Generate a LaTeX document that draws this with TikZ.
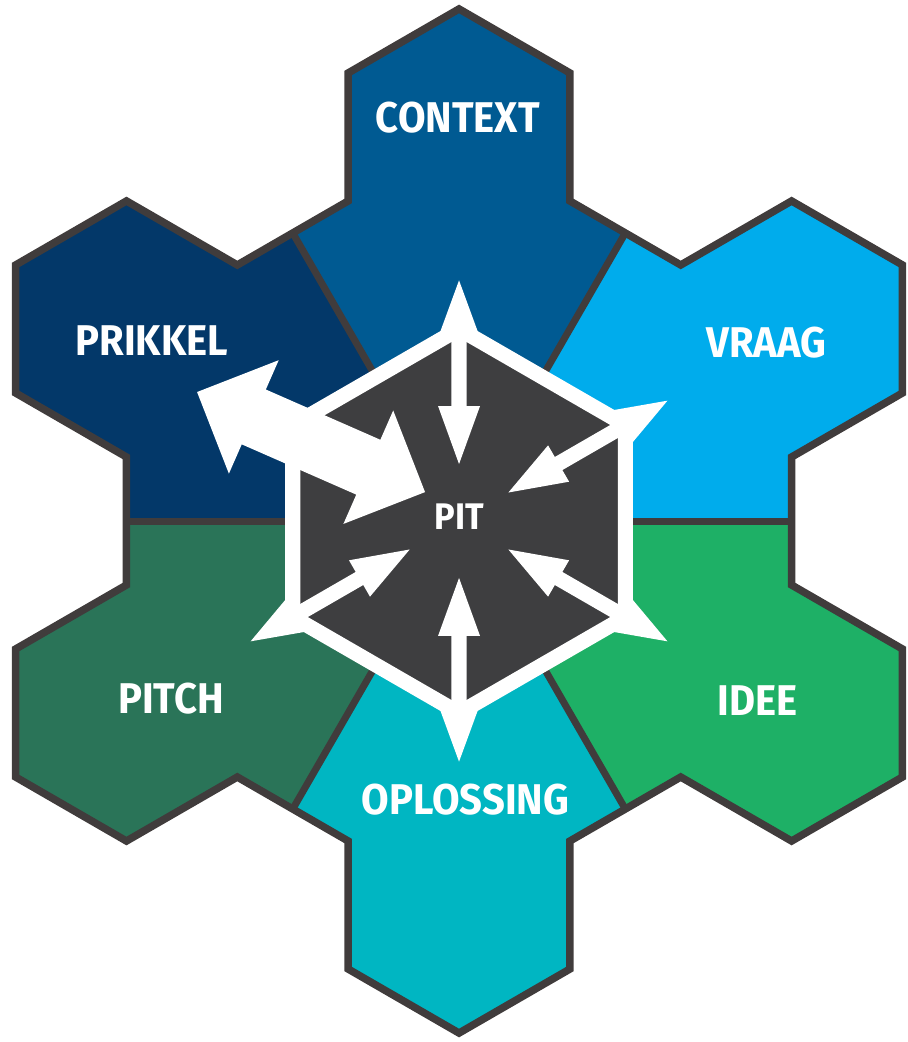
\documentclass[tikz,border=0pt]{standalone}
\usepackage{fontspec}
\usepackage{tikz}

\newfontfamily\hexfont{Fira Sans}[FakeStretch=0.93]

\definecolor{prikkelblue}{RGB}{3,56,105}
\definecolor{contextblue}{RGB}{0,90,146}
\definecolor{vraagblue}{RGB}{0,172,236}
\definecolor{ideegreen}{RGB}{30,176,102}
\definecolor{oplossingteal}{RGB}{0,182,194}
\definecolor{pitchgreen}{RGB}{42,116,88}
\definecolor{pitgray}{RGB}{62,62,64}
\definecolor{rimgray}{RGB}{64,60,60}

% outline of the 13 hexagons (unit = circumradius of one cell)
\newcommand\flowerline{(0,4) -- (0.866,3.5) -- (0.866,2.5) -- (1.732,2) -- (2.598,2.5) -- (3.464,2) -- (3.464,1) -- (2.598,0.5) -- (2.598,-0.5) -- (3.464,-1) -- (3.464,-2) -- (2.598,-2.5) -- (1.732,-2) -- (0.866,-2.5) -- (0.866,-3.5) -- (0,-4) -- (-0.866,-3.5) -- (-0.866,-2.5) -- (-1.732,-2) -- (-2.598,-2.5) -- (-3.464,-2) -- (-3.464,-1) -- (-2.598,-0.5) -- (-2.598,0.5) -- (-3.464,1) -- (-3.464,2) -- (-2.598,2.5) -- (-1.732,2) -- (-0.866,2.5) -- (-0.866,3.5) -- cycle}

\begin{document}
\begin{tikzpicture}[
  x=128pt, y=128pt,
  rim/.style={draw=rimgray, line width=7.5pt, line join=miter},
  sep/.style={draw=rimgray, line width=7pt},
  pitrim/.style={fill=pitgray, draw=white, line width=15pt, line join=miter},
  spoke/.style={fill=white},
  lbl/.style={text=white, inner sep=0pt, font=\hexfont\bfseries\fontsize{43}{43}\selectfont}
]
\useasboundingbox (-3.586,-4.070) rectangle (3.5,4.070);

% ---------- Coloured regions ----------
\foreach \ang/\col in {90/contextblue, 30/vraagblue, -30/ideegreen, -90/oplossingteal, -150/pitchgreen, 150/prikkelblue}{
  \begin{scope}
    \clip (0,0) -- ({\ang-30}:9) -- ({\ang+30}:9) -- cycle;
    \fill[\col] \flowerline;
  \end{scope}
}
\foreach \a in {0,60,...,300}
  \draw[sep] (0,0) -- (\a:2.598);
\draw[rim] \flowerline;

% ---------- PIT ----------
\filldraw[pitrim] (90:1.5) -- (30:1.5) -- (-30:1.5) -- (-90:1.5) -- (-150:1.5) -- (150:1.5) -- cycle;

% ---------- Arrows ----------
\foreach \a in {90,30,-30,-90,-150}
  \fill[spoke, rotate=\a] (0.445,0) -- (0.898,0.164) -- (0.898,0.059) -- (1.47,0.059) -- (1.47,0.15)
    -- (1.88,0) -- (1.47,-0.15) -- (1.47,-0.059) -- (0.898,-0.059) -- (0.898,-0.164) -- cycle;
\fill[spoke, rotate=156.3] (0.334,-0.10) -- (0.818,0.384) -- (0.818,0.134) -- (1.795,0.134) -- (1.795,0.384)
  -- (2.279,-0.10) -- (1.795,-0.584) -- (1.795,-0.334) -- (0.818,-0.334) -- (0.818,-0.584) -- cycle;

% ---------- Labels ----------
\node[lbl] (context) at (-0.01,3.15) {CONTEXT};
\node[lbl] (prikkel) at (-2.40,1.41) {PRIKKEL};
\node[lbl] (vraag) at (2.40,1.39) {VRAAG};
\node[lbl] (pitch) at (-2.25,-1.39) {PITCH};
\node[lbl] (idee) at (2.33,-1.40) {IDEE};
\node[lbl] (oplossing) at (0.05,-2.18) {OPLOSSING};
\node[lbl, font=\hexfont\bfseries\fontsize{37}{37}\selectfont] (pit) at (0,0.03) {PIT};
\end{tikzpicture}
\end{document}
